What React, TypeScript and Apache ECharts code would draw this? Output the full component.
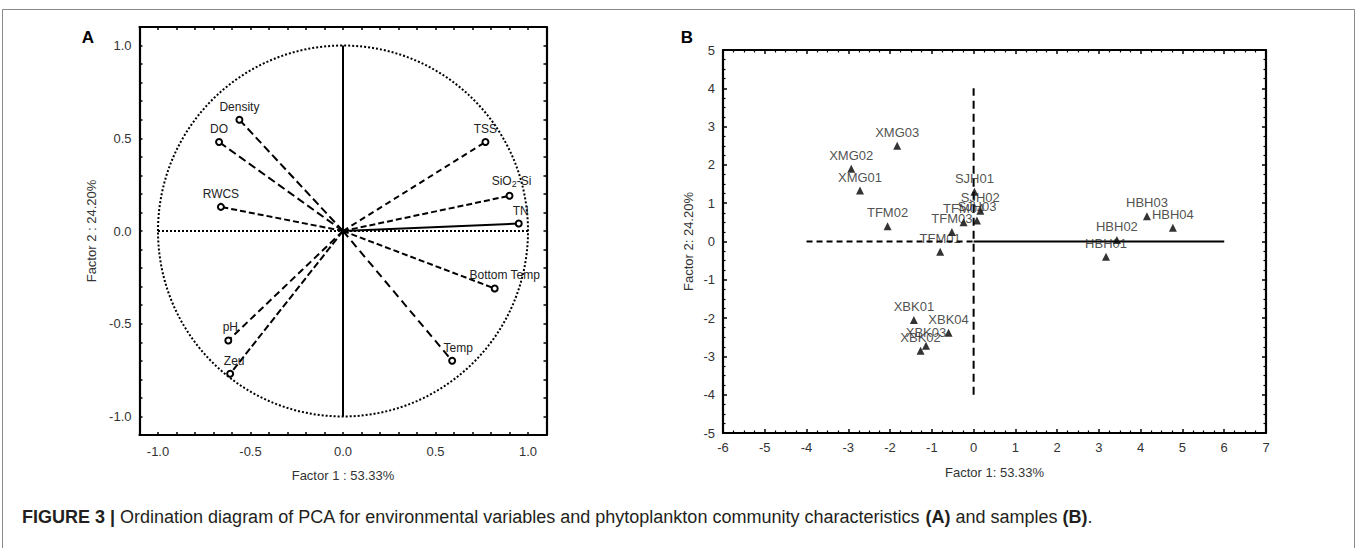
import React, { useEffect, useRef } from "react";
import * as echarts from "echarts";

// ---- Panel A: loadings of environmental variables ----
const loadingNames = ["Density", "DO", "RWCS", "TSS", "SiO2-Si", "TN", "Bottom Temp", "Temp", "pH", "Zeu"];
const loadingF1 = [-0.56, -0.67, -0.66, 0.77, 0.9, 0.95, 0.82, 0.59, -0.62, -0.61];
const loadingF2 = [0.6, 0.48, 0.13, 0.48, 0.19, 0.04, -0.31, -0.7, -0.59, -0.77];
const loadingDash: (number[] | "solid")[] = [[8, 4], [8, 4], [6, 3], [6, 4], [6, 3], "solid", [6, 3], [8, 5], [7, 4], [7, 3]];
const loadingLabelOffset = [[0, 0], [0, 0], [0, 0], [0, 0], [2, 0], [2, 0], [10, 0], [6, 0], [2, 0], [4, 0]];

// ---- Panel B: sample scores ----
const sampleNames = [
  "XMG01", "XMG02", "XMG03",
  "TFM01", "TFM02", "TFM03", "TFM04",
  "SJH01", "SJH02", "SJH03",
  "HBH01", "HBH02", "HBH03", "HBH04",
  "XBK01", "XBK02", "XBK03", "XBK04",
];
const scoreF1 = [-2.72, -2.93, -1.83, -0.8, -2.06, -0.52, -0.24, 0.02, 0.16, 0.08, 3.17, 3.43, 4.15, 4.77, -1.43, -1.27, -1.14, -0.6];
const scoreF2 = [1.33, 1.9, 2.5, -0.27, 0.4, 0.25, 0.5, 1.3, 0.8, 0.55, -0.4, 0.04, 0.66, 0.36, -2.05, -2.85, -2.72, -2.38];

// ---- tick values ----
const axisAMajor = [-1.0, -0.5, 0.0, 0.5, 1.0];
const axisAMinor = [-1.1, -1.0, -0.9, -0.8, -0.7, -0.6, -0.5, -0.4, -0.3, -0.2, -0.1, 0.0, 0.1, 0.2, 0.3, 0.4, 0.5, 0.6, 0.7, 0.8, 0.9, 1.0, 1.1];
const axisBX = { min: -6, max: 7 };
const axisBY = { min: -5, max: 5 };

// reference lines
const axisALineV = [[0, -1], [0, 1]];
const axisALineH = [[-1, 0], [1, 0]];
const axisBDashH = [[-4, 0], [0, 0]];
const axisBSolidH = [[0, 0], [6, 0]];
const axisBDashV = [[0, -4], [0, 4]];

const FONT = "'Liberation Sans', Arial, sans-serif";
const TXT = "#222";

function frameAxis(gridIndex: number, position: string, extra: any = {}) {
  return {
    gridIndex,
    type: "value",
    position,
    axisLine: { show: true, onZero: false, lineStyle: { color: "#000", width: 2.2 } },
    splitLine: { show: false },
    ...extra,
  };
}

export default function App() {
  const ref = useRef<HTMLDivElement>(null);
  useEffect(() => {
    if (!ref.current) return;
    const chart = echarts.init(ref.current, null, { renderer: "svg" });

    const tickA = { show: true, inside: true, length: 3, customValues: axisAMinor, lineStyle: { color: "#000", width: 1.5 } };
    const labelA = {
      show: true,
      customValues: axisAMajor,
      formatter: (v: number) => v.toFixed(1),
      fontSize: 13,
      color: "#333",
      fontFamily: FONT,
    };
    const noLabel = { show: false };

    const tickB = { show: true, inside: true, length: 4, lineStyle: { color: "#000", width: 1.5 } };
    const minorB = { show: true, splitNumber: 4, length: 2.5, lineStyle: { color: "#000", width: 1.2 } };
    const labelB = { show: true, fontSize: 13, color: "#333", fontFamily: FONT, margin: 8 };

    const series: any[] = [];
    // Panel A reference lines
    series.push({
      type: "line", xAxisIndex: 0, yAxisIndex: 0, data: axisALineH, symbol: "none",
      lineStyle: { color: "#000", width: 2, type: [2, 2] }, silent: true, z: 1,
    });
    series.push({
      type: "line", xAxisIndex: 0, yAxisIndex: 0, data: axisALineV, symbol: "none",
      lineStyle: { color: "#000", width: 2 }, silent: true, z: 1,
    });
    // Panel A vectors
    loadingNames.forEach((name, i) => {
      const isSi = name === "SiO2-Si";
      series.push({
        type: "line",
        xAxisIndex: 0,
        yAxisIndex: 0,
        showSymbol: true,
        z: 3,
        lineStyle: { color: "#000", width: 2, type: loadingDash[i] },
        data: [
          { value: [0, 0], symbol: "none" },
          {
            value: [loadingF1[i], loadingF2[i]],
            symbol: "emptyCircle",
            symbolSize: 6,
            itemStyle: { color: "#000", borderWidth: 1.5 },
            label: {
              show: true,
              position: "top",
              distance: 3,
              offset: loadingLabelOffset[i],
              formatter: isSi ? "SiO{sub|2}-Si" : name,
              fontSize: 12,
              color: TXT,
              fontFamily: FONT,
              rich: { sub: { fontSize: 9, verticalAlign: "bottom", padding: [6, 0, 0, 0], color: TXT, fontFamily: FONT } },
            },
          },
        ],
      });
    });

    // Panel B reference lines
    series.push({
      type: "line", xAxisIndex: 2, yAxisIndex: 2, data: axisBDashH, symbol: "none",
      lineStyle: { color: "#000", width: 2, type: [6, 4] }, silent: true, z: 1,
    });
    series.push({
      type: "line", xAxisIndex: 2, yAxisIndex: 2, data: axisBSolidH, symbol: "none",
      lineStyle: { color: "#000", width: 2 }, silent: true, z: 1,
    });
    series.push({
      type: "line", xAxisIndex: 2, yAxisIndex: 2, data: axisBDashV, symbol: "none",
      lineStyle: { color: "#000", width: 2, type: [8, 5] }, silent: true, z: 1,
    });
    // Panel B samples
    series.push({
      type: "scatter",
      xAxisIndex: 2,
      yAxisIndex: 2,
      symbol: "triangle",
      symbolSize: 8,
      z: 4,
      itemStyle: { color: "#000" },
      data: sampleNames.map((n, i) => ({ name: n, value: [scoreF1[i], scoreF2[i]] })),
      label: {
        show: true,
        position: "top",
        distance: 3,
        formatter: "{b}",
        fontSize: 13,
        color: TXT,
        fontFamily: FONT,
      },
    });

    const option: any = {
      animation: false,
      backgroundColor: "#fff",
      textStyle: { fontFamily: FONT },
      grid: [
        { left: 139.5, top: 27, width: 407, height: 408, show: false },
        { left: 723, top: 50, width: 543, height: 383, show: false },
      ],
      xAxis: [
        frameAxis(0, "bottom", {
          min: -1.1, max: 1.1, axisTick: tickA, axisLabel: { ...labelA, margin: 10 },
          name: "Factor 1 : 53.33%", nameLocation: "middle", nameGap: 34,
          nameTextStyle: { fontSize: 13, color: "#333", fontFamily: FONT },
        }),
        frameAxis(0, "top", { min: -1.1, max: 1.1, axisTick: tickA, axisLabel: noLabel }),
        frameAxis(1, "bottom", {
          min: axisBX.min, max: axisBX.max, interval: 1, axisTick: tickB, minorTick: minorB, axisLabel: labelB,
          name: "Factor 1: 53.33%", nameLocation: "middle", nameGap: 33,
          nameTextStyle: { fontSize: 13, color: "#333", fontFamily: FONT },
        }),
        frameAxis(1, "top", { min: axisBX.min, max: axisBX.max, interval: 1, axisTick: tickB, minorTick: minorB, axisLabel: noLabel }),
      ],
      yAxis: [
        frameAxis(0, "left", {
          min: -1.1, max: 1.1, axisTick: tickA, axisLabel: { ...labelA, margin: 8 },
          name: "Factor 2 : 24.20%", nameLocation: "middle", nameGap: 42,
          nameTextStyle: { fontSize: 13, color: "#333", fontFamily: FONT },
        }),
        frameAxis(0, "right", { min: -1.1, max: 1.1, axisTick: tickA, axisLabel: noLabel }),
        frameAxis(1, "left", {
          min: axisBY.min, max: axisBY.max, interval: 1, axisTick: tickB, minorTick: minorB, axisLabel: labelB,
          name: "Factor 2: 24.20%", nameLocation: "middle", nameGap: 28,
          nameTextStyle: { fontSize: 13, color: "#333", fontFamily: FONT },
        }),
        frameAxis(1, "right", { min: axisBY.min, max: axisBY.max, interval: 1, axisTick: tickB, minorTick: minorB, axisLabel: noLabel }),
      ],
      series,
    };
    chart.setOption(option);

    // unit circle of correlations, placed through the axis scales
    const c = chart.convertToPixel({ xAxisIndex: 0, yAxisIndex: 0 }, [0, 0]) as number[];
    const px = chart.convertToPixel({ xAxisIndex: 0, yAxisIndex: 0 }, [1, 1]) as number[];
    const rx = Math.abs(px[0] - c[0]);
    const ry = Math.abs(px[1] - c[1]);

    chart.setOption({
      graphic: [
        {
          type: "rect",
          shape: { x: 2.5, y: 9.5, width: 1352, height: 560 },
          style: { fill: "none", stroke: "#8a8a8a", lineWidth: 1 },
          silent: true,
          z: -10,
        },
        {
          type: "ellipse",
          shape: { cx: c[0], cy: c[1], rx, ry },
          style: { fill: "none", stroke: "#000", lineWidth: 2, lineDash: [2, 2] },
          silent: true,
          z: 2,
        },
        {
          type: "text",
          x: 88,
          y: 37,
          style: { text: "A", font: `bold 17px ${FONT}`, fill: "#000", textVerticalAlign: "middle", textAlign: "center" },
        },
        {
          type: "text",
          x: 687,
          y: 37,
          style: { text: "B", font: `bold 17px ${FONT}`, fill: "#000", textVerticalAlign: "middle", textAlign: "center" },
        },
        {
          type: "text",
          x: 22,
          y: 517,
          style: {
            text: "{b|FIGURE 3 |} Ordination diagram of PCA for environmental variables and phytoplankton community characteristics {b|(A)} and samples {b|(B)}.",
            font: `18px ${FONT}`,
            fill: "#231f20",
            textVerticalAlign: "middle",
            rich: {
              b: { fontWeight: "bold", fontSize: 18, fontFamily: FONT, fill: "#231f20" },
            },
          },
        },
      ],
    });

    return () => chart.dispose();
  }, []);
  return <div ref={ref} style={{ position: "fixed", left: 0, top: 0, width: 1358, height: 548, background: "#fff" }} />;
}
